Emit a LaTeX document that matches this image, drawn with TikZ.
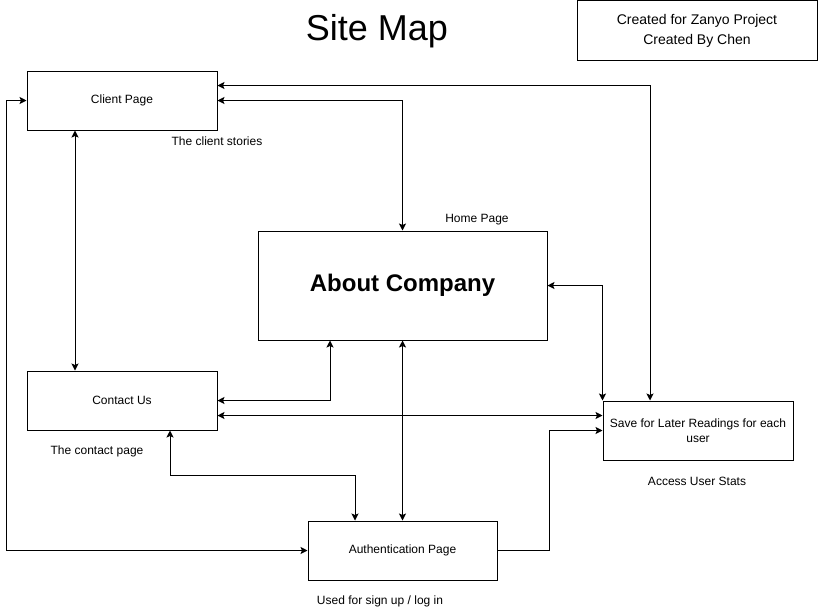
\documentclass[tikz,border=0pt]{standalone}
\usepackage{fontspec}
\setmainfont{Liberation Sans}
\usetikzlibrary{arrows.meta}
\begin{document}
\begin{tikzpicture}[x=1pt,y=-1pt,
  every node/.style={font=\fontsize{12}{14}\selectfont},
  pagebox/.style={draw,line width=1pt,minimum width=190pt,minimum height=59pt,inner sep=2pt,align=center},
  link/.style={line width=1pt,{Stealth[length=7pt,width=7pt,inset=1.5pt]}-{Stealth[length=7pt,width=7pt,inset=1.5pt]}},
  onelink/.style={line width=1pt,-{Stealth[length=7pt,width=7pt,inset=1.5pt]}},
  caption/.style={inner sep=0pt}]
\useasboundingbox (0,0) rectangle (818,611);
\fill[white] (0,0) rectangle (818,611);

% header
\node[caption,font=\fontsize{36}{40}\selectfont] (title) at (377,31) {Site Map};
\node[draw,line width=1pt,minimum width=240pt,minimum height=59.5pt,align=center,
      font=\fontsize{14}{20}\selectfont] (credit) at (697,30.5)
      {Created for Zanyo Project\\Created By Chen};

% pages
\node[pagebox] (client) at (122,100.5) {Client Page};
\node[pagebox,minimum width=289pt,minimum height=109pt,font=\bfseries\fontsize{24}{28}\selectfont] (about) at (402.5,285.5) {About Company};
\node[pagebox] (contact) at (122,400.5) {Contact Us};
\node[pagebox,font=\fontsize{12}{15}\selectfont] (save) at (698,430.5) {Save for Later Readings for each\\user};
\node[pagebox,minimum width=189pt] (auth) at (402.5,550.5) {Authentication Page};

% captions
\node[caption] (clientcap) at (217,141) {The client stories};
\node[caption] (homecap) at (477,220) {Home Page};
\node[caption] (contactcap) at (97,451) {The contact page};
\node[caption] (savecap) at (697,481) {Access User Stats};
\node[caption] (authcap) at (380,601) {Used for sign up / log in};

% connectors
\draw[link] ([yshift=15pt]client.east) -| ([xshift=-48pt]save.north);
\draw[link] (client.east) -| (about.north);
\draw[link] ([xshift=-47pt]client.south) -- ([xshift=-47pt]contact.north);
\draw[link] (contact.east) -| ([xshift=-72.5pt]about.south);
\draw[link] ([yshift=-15pt]contact.east) -- ([yshift=15pt]save.west);
\draw[link] ([xshift=48pt]contact.south) -- ++(0,45) -| ([xshift=-47.5pt]auth.north);
\draw[link] (about.south) -- (auth.north);
\draw[link] (about.east) -| (save.north west);
\draw[link] (client.west) -- ++(-20,0) |- (auth.west);
\draw[onelink] (auth.east) -- ++(52,0) |- (save.west);
\end{tikzpicture}
\end{document}
